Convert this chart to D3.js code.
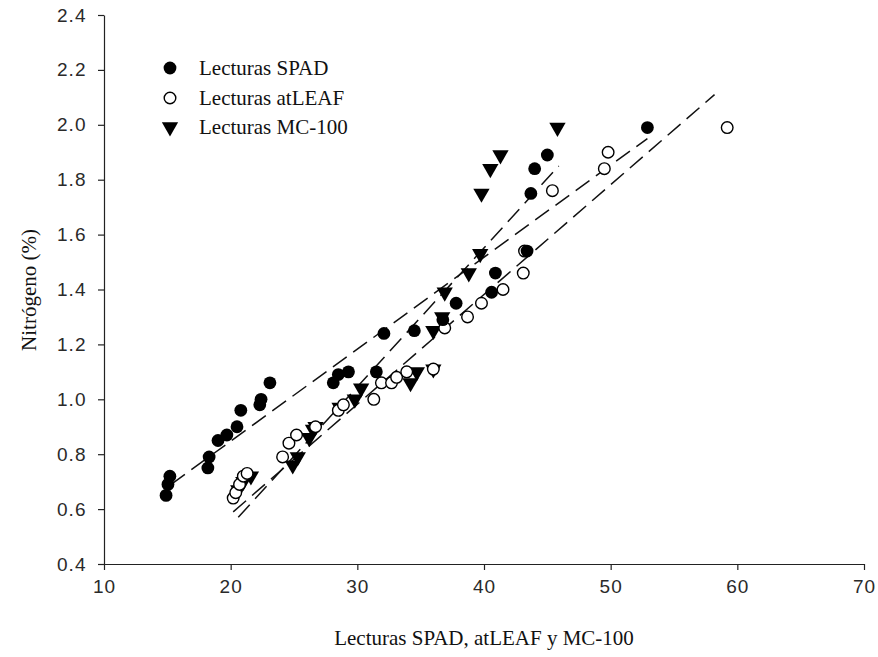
<!DOCTYPE html>
<html><head><meta charset="utf-8">
<script src="https://cdn.jsdelivr.net/npm/d3@7"></script>
<style>body{margin:0;background:#fff}</style>
</head><body>
<svg id="c" width="878" height="657"></svg>
<script>
// SPAD (filled circles)
const spadX = [14.9,15.05,15.2,18.2,18.3,19.0,19.7,20.5,20.8,22.3,22.4,23.1,28.1,28.5,29.3,31.5,32.1,34.5,36.75,37.8,40.6,40.9,43.4,43.7,44.0,45.0,52.9];
const spadY = [0.65,0.69,0.72,0.75,0.79,0.85,0.87,0.90,0.96,0.98,1.00,1.06,1.06,1.09,1.10,1.10,1.24,1.25,1.29,1.35,1.39,1.46,1.54,1.75,1.84,1.89,1.99];
// atLEAF (open circles)
const leafX = [20.2,20.4,20.7,21.0,21.3,24.1,24.6,25.2,26.7,28.5,28.9,31.3,31.9,32.7,33.1,33.9,36.0,36.9,38.7,39.8,41.5,43.1,43.2,45.4,49.5,49.8,59.2];
const leafY = [0.64,0.66,0.69,0.72,0.73,0.79,0.84,0.87,0.90,0.96,0.98,1.00,1.06,1.06,1.08,1.10,1.11,1.26,1.30,1.35,1.40,1.46,1.54,1.76,1.84,1.90,1.99];
// MC-100 (filled down-triangles)
const mcX = [20.6,21.0,21.6,24.9,25.3,26.2,26.5,26.7,28.6,29.8,30.3,34.2,34.7,36.0,36.0,36.7,36.9,38.8,39.7,39.8,40.5,41.3,45.8];
const mcY = [0.67,0.70,0.72,0.76,0.79,0.86,0.89,0.90,0.97,1.00,1.04,1.06,1.10,1.11,1.25,1.30,1.39,1.46,1.53,1.75,1.84,1.89,1.99];
// regression lines: [x0, y0, x1, y1]
const spadFit = [15.3, 0.69, 52.9, 1.95];
const leafFit = [20.2, 0.59, 58.2, 2.11];
const mcFit = [20.6, 0.57, 45.9, 1.85];
const xTicks = [10,20,30,40,50,60,70];
const yTicks = [0.4,0.6,0.8,1.0,1.2,1.4,1.6,1.8,2.0,2.2,2.4];
const legendLabels = ["Lecturas SPAD","Lecturas atLEAF","Lecturas MC-100"];

const svg = d3.select("#c");
const x = d3.scaleLinear().domain([10,70]).range([104,864]);
const y = d3.scaleLinear().domain([0.4,2.4]).range([564,15]);

const tickFont = "'Liberation Sans', Arial, sans-serif";
const serif = "'Liberation Serif', 'Times New Roman', serif";

const gx = svg.append("g").attr("transform","translate(0,564)")
  .call(d3.axisBottom(x).tickValues(xTicks).tickSize(6).tickSizeOuter(0).tickFormat(d3.format("d")));
const gy = svg.append("g").attr("transform","translate(104,0)")
  .call(d3.axisLeft(y).tickValues(yTicks).tickSize(6).tickSizeOuter(0).tickFormat(d3.format(".1f")));
[gx,gy].forEach(g=>{
  g.selectAll("path,line").attr("stroke","#222").attr("stroke-width",1.2);
  g.selectAll("text").attr("font-family",tickFont).attr("font-size",19).attr("letter-spacing",1).attr("fill","#2a2a2a");
});
gx.selectAll("text").attr("dy","1.05em");
gy.selectAll("text").attr("dx","-0.45em");

// fit lines
const fits = [spadFit, leafFit, mcFit];
svg.append("g").selectAll("line").data(fits).join("line")
  .attr("x1",d=>x(d[0])).attr("y1",d=>y(d[1])).attr("x2",d=>x(d[2])).attr("y2",d=>y(d[3]))
  .attr("stroke","#111").attr("stroke-width",1.5).attr("stroke-dasharray","17,8");

const tri = d3.symbol().type(d3.symbolTriangle).size(115);
// markers
svg.append("g").selectAll("path").data(d3.zip(mcX,mcY)).join("path")
  .attr("d",tri).attr("transform",d=>`translate(${x(d[0])},${y(d[1])}) rotate(180)`).attr("fill","#000");
svg.append("g").selectAll("circle").data(d3.zip(leafX,leafY)).join("circle")
  .attr("cx",d=>x(d[0])).attr("cy",d=>y(d[1])).attr("r",5.8).attr("fill","#fff").attr("stroke","#000").attr("stroke-width",1.4);
svg.append("g").selectAll("circle").data(d3.zip(spadX,spadY)).join("circle")
  .attr("cx",d=>x(d[0])).attr("cy",d=>y(d[1])).attr("r",6.4).attr("fill","#000");

// legend
const lg = svg.append("g");
const ly = [68,98,127];
lg.append("circle").attr("cx",170).attr("cy",ly[0]).attr("r",6.4).attr("fill","#000");
lg.append("circle").attr("cx",170).attr("cy",ly[1]).attr("r",5.8).attr("fill","#fff").attr("stroke","#000").attr("stroke-width",1.4);
lg.append("path").attr("d",tri).attr("transform",`translate(170,${ly[2]}) rotate(180)`).attr("fill","#000");
lg.selectAll("text").data(legendLabels).join("text")
  .attr("x",199).attr("y",(d,i)=>ly[i]).attr("dy","0.35em")
  .attr("font-family",serif).attr("font-size",21).attr("fill","#111").text(d=>d);

// axis titles
svg.append("text").attr("x",484).attr("y",645).attr("text-anchor","middle")
  .attr("font-family",serif).attr("font-size",21).attr("fill","#111").text("Lecturas SPAD, atLEAF y MC-100");
svg.append("text").attr("transform","translate(36,290) rotate(-90)").attr("text-anchor","middle")
  .attr("font-family",serif).attr("font-size",21).attr("fill","#111").text("Nitrógeno (%)");
</script>
</body></html>
